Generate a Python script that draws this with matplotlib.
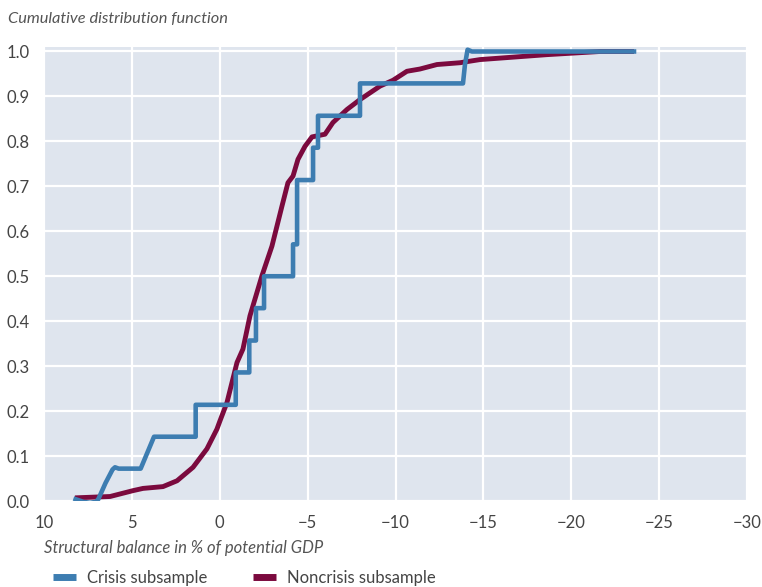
import matplotlib
matplotlib.use('Agg')
import matplotlib.pyplot as plt
from matplotlib.lines import Line2D

plt.rcParams['font.family'] = ['Lato', 'DejaVu Sans']

# Crisis subsample (step-like empirical CDF)
crisis_x = [8.20, 7.75, 7.38, 7.05, 6.91, 6.50, 6.10, 5.96, 5.75, 4.50, 3.74, 1.37, 1.37,
            -0.91, -0.91, -1.68, -1.68, -2.06, -2.06, -2.52, -2.52, -4.17, -4.17, -4.40,
            -4.40, -5.31, -5.31, -5.59, -5.59, -7.98, -7.98, -13.84, -13.95, -14.10,
            -14.35, -23.57]
crisis_y = [0.004, -0.002, -0.004, -0.002, 0.004, 0.040, 0.070, 0.075, 0.072, 0.072, 0.143,
            0.143, 0.214, 0.214, 0.286, 0.286, 0.357, 0.357, 0.429, 0.429, 0.500, 0.500,
            0.571, 0.571, 0.714, 0.714, 0.786, 0.786, 0.857, 0.857, 0.929, 0.929, 0.970,
            1.004, 1.000, 1.000]

# Noncrisis subsample
noncrisis_x = [8.24, 6.24, 4.94, 4.37, 3.23, 2.43, 1.52, 0.73, 0.16, -0.01, -0.41, -0.98,
               -1.32, -1.72, -2.40, -2.97, -3.54, -3.88, -4.17, -4.45, -4.85, -5.25, -5.99,
               -6.44, -7.24, -7.98, -8.55, -9.12, -9.86, -10.65, -11.39, -12.36, -13.67,
               -14.81, -18.62, -21.64, -23.57]
noncrisis_y = [0.007, 0.010, 0.023, 0.028, 0.032, 0.045, 0.075, 0.116, 0.160, 0.178, 0.219,
               0.308, 0.338, 0.412, 0.501, 0.567, 0.656, 0.708, 0.723, 0.760, 0.789, 0.810,
               0.816, 0.842, 0.871, 0.893, 0.908, 0.923, 0.936, 0.956, 0.961, 0.971, 0.975,
               0.982, 0.993, 1.000, 1.000]

x_ticks = [10, 5, 0, -5, -10, -15, -20, -25, -30]
y_ticks = [0.0, 0.1, 0.2, 0.3, 0.4, 0.5, 0.6, 0.7, 0.8, 0.9, 1.0]

blue = '#3d7db1'
maroon = '#7b0a3e'
text_col = '#444444'

fig = plt.figure(figsize=(7.62, 5.87), dpi=100)
ax = fig.add_axes([44 / 762, 1 - 501 / 587, 703 / 762, 454 / 587])
ax.set_facecolor('#dfe5ee')

ax.plot(noncrisis_x, noncrisis_y, color=maroon, lw=3.5, solid_capstyle='butt', zorder=3)
ax.plot(crisis_x, crisis_y, color=blue, lw=3.3, solid_joinstyle='round', zorder=4)

ax.set_xlim(10, -30)
ax.set_ylim(0, 1.01)
ax.set_xticks(x_ticks)
ax.set_yticks(y_ticks)
ax.set_yticklabels([f'{v:.1f}' for v in y_ticks])
ax.grid(True, color='white', lw=1.6)
ax.set_axisbelow(True)
for s in ax.spines.values():
    s.set_visible(False)
ax.tick_params(length=0, labelsize=12, colors=text_col)
ax.tick_params(axis='y', pad=10)
ax.tick_params(axis='x', pad=10)

fig.text(8 / 762, 1 - 19 / 587, 'Cumulative distribution function', style='italic',
         fontsize=11.8, color='#555555', va='center', ha='left')
fig.text(44 / 762, 1 - 548 / 587, 'Structural balance in % of potential GDP',
         style='italic', fontsize=12, color='#555555', va='center', ha='left')

handles = [Line2D([], [], color=blue, lw=5, solid_capstyle='butt'),
           Line2D([], [], color=maroon, lw=5, solid_capstyle='butt')]
fig.legend(handles, ['Crisis subsample', 'Noncrisis subsample'], loc='center left',
           bbox_to_anchor=(38 / 762, 1 - 578 / 587), ncol=2, frameon=False,
           fontsize=12, handlelength=1.4, columnspacing=2.7, handletextpad=0.65,
           labelcolor=text_col)

fig.savefig('out.png', dpi=100)
